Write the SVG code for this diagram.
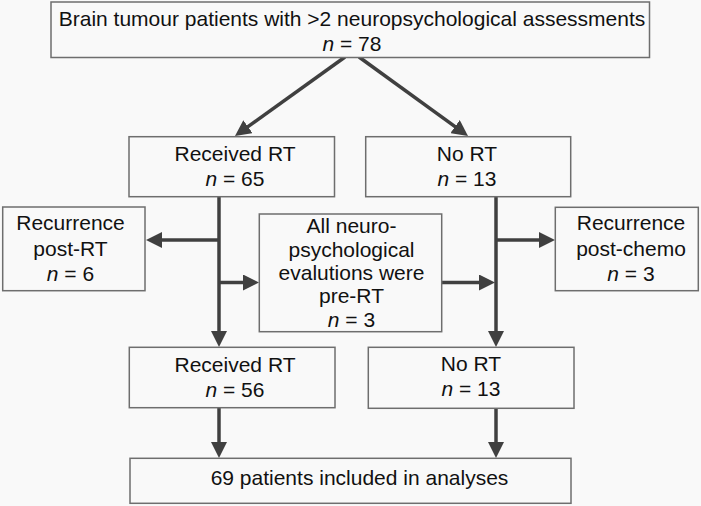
<svg xmlns="http://www.w3.org/2000/svg" width="701" height="506" viewBox="0 0 701 506">
  <style>
    .box { fill: #f9f9f9; stroke: #6e6e6e; stroke-width: 1.5; }
    .t { font-family: "Liberation Sans", Arial, Helvetica, sans-serif; font-size: 21px; fill: #111; text-anchor: middle; }
    .i { font-style: italic; }
    .c { stroke: #404040; stroke-width: 3.5; fill: none; marker-end: url(#ah); }
  </style>
  <defs>
    <marker id="ah" viewBox="0 0 16 16" refX="6" refY="8" markerWidth="16" markerHeight="16" markerUnits="userSpaceOnUse" orient="auto">
      <path d="M0,0 L16,8 L0,16 z" fill="#404040"/>
    </marker>
  </defs>
  <rect x="0" y="0" width="701" height="506" fill="#f9f9f9"/>

  <g id="connectors">
    <line class="c" x1="345" y1="57" x2="243.1" y2="130.2"/>
    <line class="c" x1="359" y1="57" x2="459.9" y2="130.1"/>
    <line class="c" x1="219" y1="197" x2="219" y2="337"/>
    <line class="c" x1="219" y1="240" x2="156" y2="240"/>
    <line class="c" x1="219" y1="282.5" x2="249" y2="282.5"/>
    <line class="c" x1="441.7" y1="282.5" x2="485" y2="282.5"/>
    <line class="c" x1="496" y1="197" x2="496" y2="337"/>
    <line class="c" x1="496" y1="240" x2="545" y2="240"/>
    <line class="c" x1="219" y1="408" x2="219" y2="448"/>
    <line class="c" x1="496" y1="408" x2="496" y2="448"/>
  </g>

  <g id="n_top">
    <rect class="box" x="51" y="2" width="598.5" height="55.5"/>
    <text class="t" x="352" y="26">Brain tumour patients with &gt;2 neuropsychological assessments</text>
    <text class="t" x="352" y="51"><tspan class="i">n</tspan> = 78</text>
  </g>

  <g id="n_rt65">
    <rect class="box" x="129" y="136.7" width="205.5" height="60"/>
    <text class="t" x="235" y="160.7">Received RT</text>
    <text class="t" x="235" y="185.7"><tspan class="i">n</tspan> = 65</text>
  </g>

  <g id="n_nort13a">
    <rect class="box" x="365.7" y="136.7" width="205" height="60"/>
    <text class="t" x="467" y="160.7">No RT</text>
    <text class="t" x="467" y="185.7"><tspan class="i">n</tspan> = 13</text>
  </g>

  <g id="n_recrt">
    <rect class="box" x="2.7" y="207" width="142.3" height="83.7"/>
    <text class="t" x="70.5" y="230">Recurrence</text>
    <text class="t" x="70.5" y="255.5">post-RT</text>
    <text class="t" x="70.5" y="280.7"><tspan class="i">n</tspan> = 6</text>
  </g>

  <g id="n_prert">
    <rect class="box" x="259.3" y="214" width="182.4" height="117.7"/>
    <text class="t" x="351.5" y="233.3">All neuro-</text>
    <text class="t" x="351.5" y="256.7">psychological</text>
    <text class="t" x="351.5" y="280">evalutions were</text>
    <text class="t" x="351.5" y="303.3">pre-RT</text>
    <text class="t" x="351.5" y="326.7"><tspan class="i">n</tspan> = 3</text>
  </g>

  <g id="n_recchemo">
    <rect class="box" x="555.3" y="207.3" width="143" height="83.4"/>
    <text class="t" x="631" y="230">Recurrence</text>
    <text class="t" x="631" y="256">post-chemo</text>
    <text class="t" x="631" y="281"><tspan class="i">n</tspan> = 3</text>
  </g>

  <g id="n_rt56">
    <rect class="box" x="129.3" y="347.3" width="205.7" height="60.4"/>
    <text class="t" x="235" y="371.7">Received RT</text>
    <text class="t" x="235" y="396.7"><tspan class="i">n</tspan> = 56</text>
  </g>

  <g id="n_nort13b">
    <rect class="box" x="368.3" y="347.3" width="205.7" height="61"/>
    <text class="t" x="471" y="370.7">No RT</text>
    <text class="t" x="471" y="395.7"><tspan class="i">n</tspan> = 13</text>
  </g>

  <g id="n_final">
    <rect class="box" x="130" y="458.3" width="441" height="45"/>
    <text class="t" x="359.5" y="485">69 patients included in analyses</text>
  </g>
</svg>
